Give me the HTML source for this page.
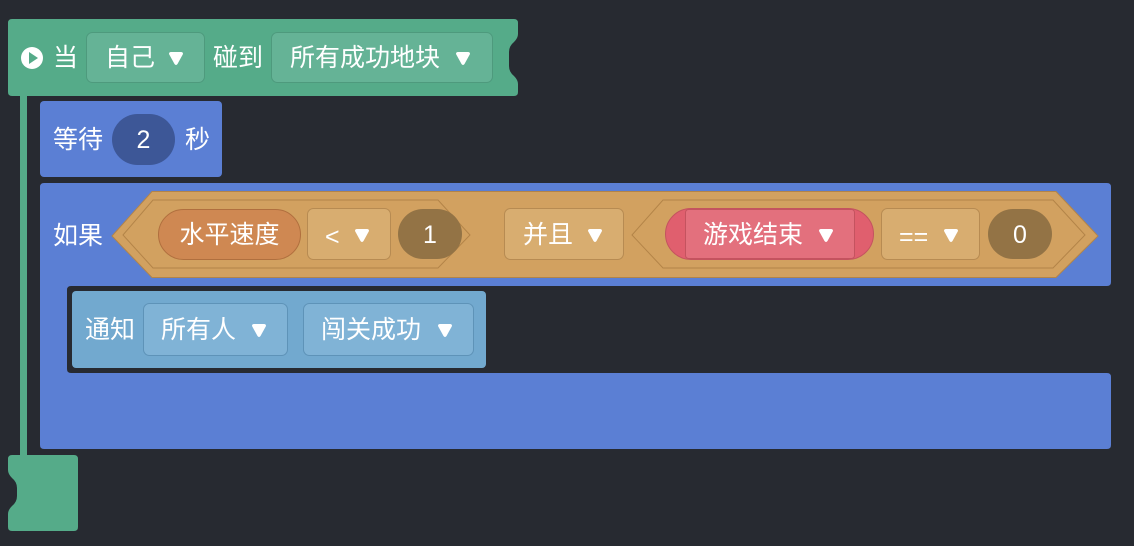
<!DOCTYPE html>
<html><head><meta charset="utf-8"><style>
html,body{margin:0;padding:0;background:#272a31;}
svg{display:block}
text{font-family:"Liberation Sans","Noto Sans CJK SC",sans-serif;font-size:25px;fill:#fff;dominant-baseline:central}
</style></head><body>
<svg width="1134" height="546" viewBox="0 0 1134 546" xmlns="http://www.w3.org/2000/svg">
<defs>
<path id="tri" d="M-7,-5 Q-7,-7 -5,-7 L5,-7 Q7,-7 7,-5 L1.5,5 Q0,7 -1.5,5 Z" fill="#fff"/>
</defs>
<rect width="1134" height="546" fill="#272a31"/>
<rect x="20" y="90" width="7" height="370" fill="#55ab89"/>
<path d="M12,19 H514 Q518,19 518,23 V34 Q518,38 514,42 Q509,46 509,52 V66 Q509,72 514,76 Q518,80 518,84 V92 Q518,96 514,96 H12 Q8,96 8,92 V23 Q8,19 12,19 Z" fill="#55ab89"/>
<circle cx="32" cy="58" r="11" fill="#fff"/>
<path d="M29,52 L38,58 L29,64 Z" fill="#55ab89"/>
<text x="53" y="58">当</text>
<rect x="86.5" y="32.5" width="118" height="50" rx="6" fill="#65b396" stroke="#4e9a7d"/>
<text x="105" y="58">自己</text>
<use href="#tri" x="176" y="59"/>
<text x="213" y="58">碰到</text>
<rect x="271.5" y="32.5" width="221" height="50" rx="6" fill="#65b396" stroke="#4e9a7d"/>
<text x="290" y="58">所有成功地块</text>
<use href="#tri" x="463" y="59"/>
<rect x="40" y="101" width="182" height="76" rx="4" fill="#5b7fd4"/>
<text x="53" y="140">等待</text>
<rect x="112" y="114" width="63" height="51" rx="25.5" fill="#3d5797"/>
<text x="143.5" y="140" text-anchor="middle">2</text>
<text x="185" y="140">秒</text>
<path d="M44,183 H1107 Q1111,183 1111,187 V282 Q1111,286 1107,286 H71 Q67,286 67,290 V369 Q67,373 71,373 H1107 Q1111,373 1111,377 V445 Q1111,449 1107,449 H44 Q40,449 40,445 V187 Q40,183 44,183 Z" fill="#5b7fd4"/>
<text x="53" y="236">如果</text>
<path d="M112,236 L152,191.5 H1056 L1098,236 L1056,277.5 H152 Z" fill="#d2a160" stroke="#b38448"/>
<path d="M123,235 L153,200 H438 L470,235 L438,268 H153 Z" fill="none" stroke="#b38448"/>
<path d="M632,235 L663,200 H1053 L1085,235 L1053,268 H663 Z" fill="none" stroke="#b38448"/>
<rect x="158.5" y="209.5" width="142" height="50" rx="25" fill="#cf8852" stroke="#b06f3e"/>
<text x="229.5" y="235" text-anchor="middle">水平速度</text>
<rect x="307.5" y="208.5" width="83" height="51" rx="6" fill="#d8ad70" stroke="#b78b52"/>
<text x="325" y="237">&lt;</text>
<use href="#tri" x="362" y="236"/>
<rect x="398" y="209" width="64" height="50" rx="25" fill="#937345"/>
<text x="430" y="235" text-anchor="middle">1</text>
<rect x="504.5" y="208.5" width="119" height="51" rx="6" fill="#d8ad70" stroke="#b78b52"/>
<text x="523" y="235">并且</text>
<use href="#tri" x="595" y="236"/>
<rect x="665.5" y="208.5" width="208" height="51" rx="25.5" fill="#e05f6e" stroke="#c4535f"/>
<rect x="685.5" y="209.5" width="169" height="49" rx="3" fill="#e3707d" stroke="#c4535f"/>
<text x="703" y="235">游戏结束</text>
<use href="#tri" x="826" y="236"/>
<rect x="881.5" y="208.5" width="98" height="51" rx="6" fill="#d8ad70" stroke="#b78b52"/>
<text x="899" y="237">==</text>
<use href="#tri" x="951" y="236"/>
<rect x="988" y="209" width="64" height="50" rx="25" fill="#937345"/>
<text x="1020" y="235" text-anchor="middle">0</text>
<rect x="72" y="291" width="414" height="77" rx="4" fill="#72a9cf"/>
<text x="85" y="330">通知</text>
<rect x="143.5" y="303.5" width="144" height="52" rx="6" fill="#80b3d6" stroke="#5e93b8"/>
<text x="161" y="330">所有人</text>
<use href="#tri" x="259" y="331"/>
<rect x="303.5" y="303.5" width="170" height="52" rx="6" fill="#80b3d6" stroke="#5e93b8"/>
<text x="321" y="330">闯关成功</text>
<use href="#tri" x="445" y="331"/>
<path d="M12,455 H74 Q78,455 78,459 V527 Q78,531 74,531 H12 Q8,531 8,527 V514 Q8,510 12,506 Q17,502 17,496 V488 Q17,482 12,478 Q8,474 8,470 V459 Q8,455 12,455 Z" fill="#55ab89"/>
</svg>
</body></html>
